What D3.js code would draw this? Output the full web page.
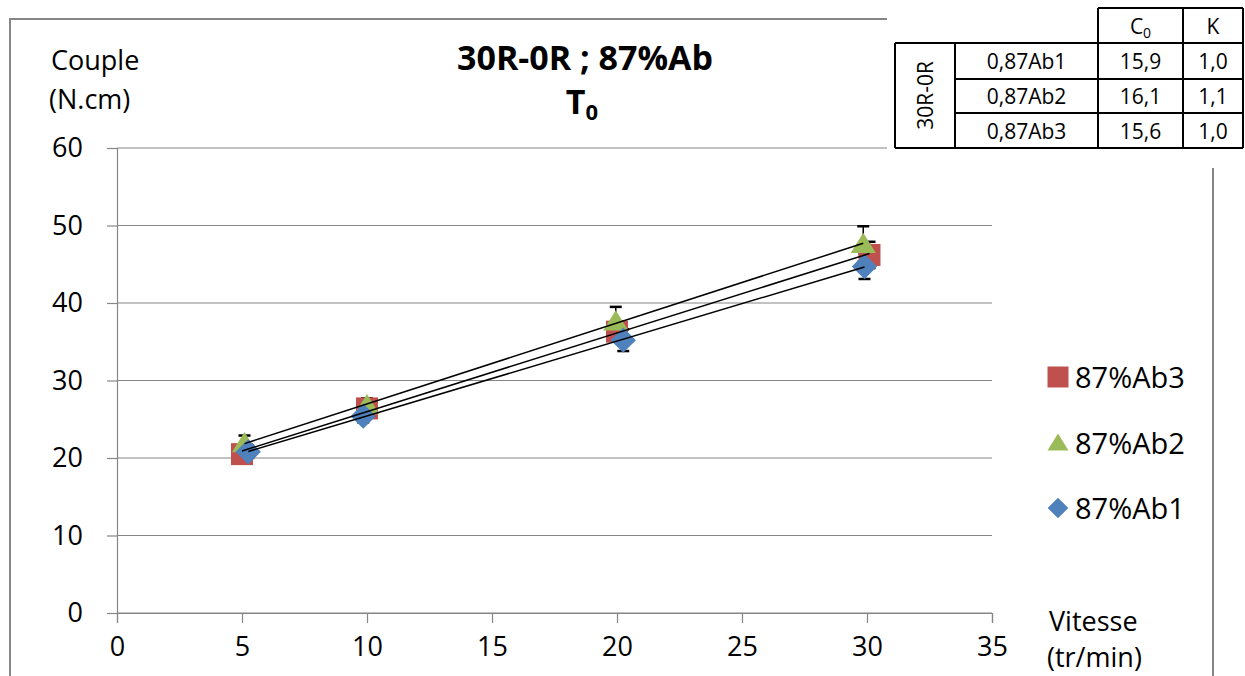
<!DOCTYPE html>
<html>
<head>
<meta charset="utf-8">
<script src="https://cdn.jsdelivr.net/npm/d3@7"></script>
<style>
  body { margin: 0; background: #fff; }
  text { font-family: "Open Sans", "Noto Sans", sans-serif; fill: #000; }
</style>
</head>
<body>
<script>
// values
const seriesNames = ['87%Ab3', '87%Ab2', '87%Ab1'];
const speedAb3 = [5, 10, 20, 30.1];
const coupleAb3 = [20.5, 26.4, 36.3, 46.2];
const errAb3 = [0.8, 0.9, 1.3, 1.7];
const speedAb2 = [5.1, 10, 19.95, 29.85];
const coupleAb2 = [21.9, 26.8, 37.6, 47.6];
const errAb2 = [1.0, 0.9, 1.9, 2.3];
const speedAb1 = [5.25, 9.85, 20.25, 29.9];
const coupleAb1 = [20.8, 25.4, 35.2, 44.7];
const errAb1 = [0.8, 0.8, 1.4, 1.6];
const xTicks = [0, 5, 10, 15, 20, 25, 30, 35];
const yTicks = [0, 10, 20, 30, 40, 50, 60];

const tableRowLabel = '30R-0R';
const tableSamples = ['0,87Ab1', '0,87Ab2', '0,87Ab3'];
const tableC0 = ['15,9', '16,1', '15,6'];
const tableK = ['1,0', '1,1', '1,0'];

const colors = { '87%Ab3': '#C0504D', '87%Ab2': '#9BBB59', '87%Ab1': '#4F81BD' };

// marker shapes: square, triangle, diamond (square turned 45 degrees)
const markerPath = (name, r) => {
  if (name === '87%Ab3') return `M${-r},${-r}H${r}V${r}H${-r}Z`;
  if (name === '87%Ab2') return `M0,${-r * 0.95}L${r * 1.05},${r * 0.75}H${-r * 1.05}Z`;
  return `M0,${-r * 1.15}L${r * 1.15},0L0,${r * 1.15}L${-r * 1.15},0Z`;
};

const series = [
  { name: '87%Ab3', xs: speedAb3, ys: coupleAb3, err: errAb3, r: 11 },
  { name: '87%Ab2', xs: speedAb2, ys: coupleAb2, err: errAb2, r: 12 },
  { name: '87%Ab1', xs: speedAb1, ys: coupleAb1, err: errAb1, r: 11 }
];

const svg = d3.select('body').append('svg')
  .attr('width', 1245)
  .attr('height', 676);

const x = d3.scaleLinear().domain([0, 35]).range([117, 992]);
const y = d3.scaleLinear().domain([0, 60]).range([613, 148]);

// chart frame (top right corner hidden behind the table)
svg.append('path')
  .attr('d', 'M10,700 V19 H887 M1213,168 V700')
  .attr('fill', 'none')
  .attr('stroke', '#868686')
  .attr('stroke-width', 2);

// gridlines
svg.append('g').selectAll('line')
  .data(yTicks)
  .enter().append('line')
  .attr('x1', x(0)).attr('x2', x(35))
  .attr('y1', d => y(d)).attr('y2', d => y(d))
  .attr('stroke', '#868686')
  .attr('stroke-width', 1.2);

const yAxis = svg.append('g')
  .attr('transform', `translate(${x(0)},0)`)
  .call(d3.axisLeft(y).tickValues(yTicks).tickSize(10).tickPadding(24));
const xAxis = svg.append('g')
  .attr('transform', `translate(0,${y(0)})`)
  .call(d3.axisBottom(x).tickValues(xTicks).tickSize(10).tickPadding(14));
[yAxis, xAxis].forEach(a => {
  a.select('.domain').attr('stroke', '#868686').attr('stroke-width', 1.2);
  a.selectAll('.tick line').attr('stroke', '#868686').attr('stroke-width', 1.2);
  a.selectAll('.tick text').attr('font-size', 27).attr('fill', '#000')
    .style('font-family', '"Open Sans", sans-serif');
});

// error bars
series.forEach(s => {
  const g = svg.append('g');
  s.xs.forEach((v, i) => {
    const cx = x(v), lo = y(s.ys[i] - s.err[i]), hi = y(s.ys[i] + s.err[i]);
    g.append('line').attr('x1', cx).attr('x2', cx).attr('y1', lo).attr('y2', hi)
      .attr('stroke', '#000').attr('stroke-width', 1.5);
    [lo, hi].forEach(yy => g.append('line')
      .attr('x1', cx - 6).attr('x2', cx + 6).attr('y1', yy).attr('y2', yy)
      .attr('stroke', '#000').attr('stroke-width', 2.5));
  });
});

// markers
series.forEach(s => {
  svg.append('g').selectAll('path')
    .data(s.xs.map((v, i) => [v, s.ys[i]]))
    .enter().append('path')
    .attr('d', markerPath(s.name, s.r))
    .attr('transform', d => `translate(${x(d[0])},${y(d[1])})`)
    .attr('fill', colors[s.name]);
});

// linear trendlines (least squares on each series)
series.forEach(s => {
  const mx = d3.mean(s.xs), my = d3.mean(s.ys);
  const slope = d3.sum(s.xs, (v, i) => (v - mx) * (s.ys[i] - my)) / d3.sum(s.xs, v => (v - mx) * (v - mx));
  const x0 = d3.min(s.xs), x1 = d3.max(s.xs);
  svg.append('line')
    .attr('x1', x(x0)).attr('y1', y(my + slope * (x0 - mx)))
    .attr('x2', x(x1)).attr('y2', y(my + slope * (x1 - mx)))
    .attr('stroke', '#000').attr('stroke-width', 1.5);
});

// titles
svg.append('text').attr('x', 585).attr('y', 70).attr('text-anchor', 'middle')
  .attr('font-size', 34).attr('font-weight', 'bold').text('30R-0R ; 87%Ab');
const t0 = svg.append('text').attr('x', 582).attr('y', 114).attr('text-anchor', 'middle')
  .attr('font-size', 34).attr('font-weight', 'bold');
t0.append('tspan').text('T');
t0.append('tspan').attr('font-size', 22).attr('dy', 6).text('0');

svg.append('text').attr('x', 51).attr('y', 70).attr('font-size', 27).text('Couple');
svg.append('text').attr('x', 49).attr('y', 109).attr('font-size', 27).text('(N.cm)');
svg.append('text').attr('x', 1049).attr('y', 631).attr('font-size', 27).text('Vitesse');
svg.append('text').attr('x', 1047).attr('y', 667).attr('font-size', 27).text('(tr/min)');

// legend
const legendY = { '87%Ab3': 377, '87%Ab2': 443, '87%Ab1': 508 };
const legend = svg.append('g').selectAll('g')
  .data(seriesNames)
  .enter().append('g')
  .attr('transform', d => `translate(1058,${legendY[d]})`);
legend.append('path')
  .attr('d', d => markerPath(d, d === '87%Ab2' ? 10 : (d === '87%Ab1' ? 9 : 10.5)))
  .attr('fill', d => colors[d]);
legend.append('text').attr('x', 17).attr('y', 11).attr('font-size', 29).text(d => d);

// table in the top right corner
const tbl = svg.append('g');
tbl.append('rect').attr('x', 887).attr('y', 0).attr('width', 358).attr('height', 166).attr('fill', '#fff');
const colX = [895, 955, 1098, 1183, 1243];
const rowY = [8, 43, 79, 113, 148];
const tline = (x1, y1, x2, y2) => tbl.append('line')
  .attr('x1', x1).attr('y1', y1).attr('x2', x2).attr('y2', y2)
  .attr('stroke', '#000').attr('stroke-width', 2);
tline(colX[2], rowY[0], colX[4], rowY[0]);
tline(colX[0], rowY[1], colX[4], rowY[1]);
tline(colX[1], rowY[2], colX[4], rowY[2]);
tline(colX[1], rowY[3], colX[4], rowY[3]);
tline(colX[0], rowY[4], colX[4], rowY[4]);
tline(colX[0], rowY[1], colX[0], rowY[4]);
tline(colX[1], rowY[1], colX[1], rowY[4]);
tline(colX[2], rowY[0], colX[2], rowY[4]);
tline(colX[3], rowY[0], colX[3], rowY[4]);
tline(colX[4], rowY[0], colX[4], rowY[4]);

const fs = 21;
const hdr = tbl.append('text').attr('x', (colX[2] + colX[3]) / 2).attr('y', 34)
  .attr('text-anchor', 'middle').attr('font-size', fs);
hdr.append('tspan').text('C');
hdr.append('tspan').attr('font-size', 14).attr('dy', 4).text('0');
tbl.append('text').attr('x', (colX[3] + colX[4]) / 2).attr('y', 34)
  .attr('text-anchor', 'middle').attr('font-size', fs).text('K');
tbl.append('text').attr('transform', `translate(933,${(rowY[1] + rowY[4]) / 2}) rotate(-90)`)
  .attr('text-anchor', 'middle').attr('font-size', fs).text(tableRowLabel);
tableSamples.forEach((s, i) => {
  const yy = (rowY[i + 1] + rowY[i + 2]) / 2 + 8;
  tbl.append('text').attr('x', (colX[1] + colX[2]) / 2).attr('y', yy)
    .attr('text-anchor', 'middle').attr('font-size', fs).text(s);
  tbl.append('text').attr('x', (colX[2] + colX[3]) / 2).attr('y', yy)
    .attr('text-anchor', 'middle').attr('font-size', fs).text(tableC0[i]);
  tbl.append('text').attr('x', (colX[3] + colX[4]) / 2).attr('y', yy)
    .attr('text-anchor', 'middle').attr('font-size', fs).text(tableK[i]);
});
</script>
</body>
</html>
